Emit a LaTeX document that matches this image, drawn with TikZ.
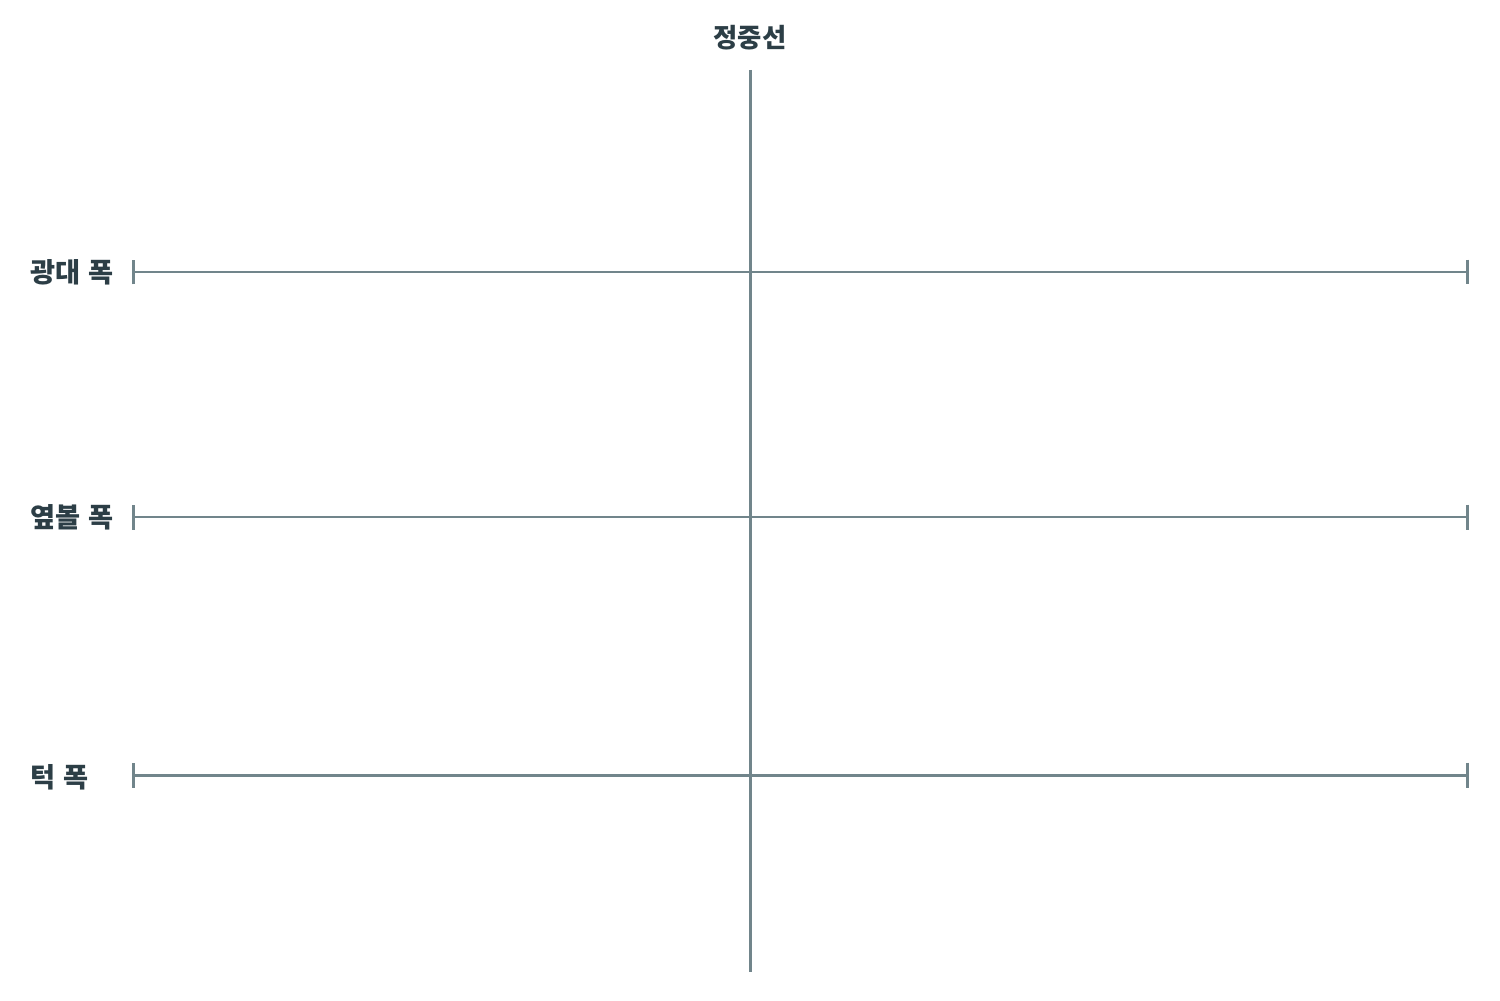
\documentclass[tikz,border=0pt]{standalone}
\usepackage{fontspec}
\setmainfont{Noto Sans CJK KR}
\usepackage{tikz}
\usetikzlibrary{arrows.meta,%
                positioning}
\definecolor{guidegray}{HTML}{71858B}
\definecolor{labelink}{HTML}{2C3E46}

\begin{document}
\begin{tikzpicture}[x=0.02cm,y=-0.02cm]
\tikzset{guide/.style={draw=guidegray,line width=1.7pt},
         widthbar/.style={guide,{Bar[width=0.5cm,line width=1.7pt]}-{Bar[width=0.5cm,line width=1.7pt]}},
         rowlabel/.style={anchor=west,inner sep=0pt,text=labelink,font=\fontsize{15.5}{18}\selectfont\bfseries}}
\useasboundingbox (0,0) rectangle (1500,1000);
\node[text=labelink,font=\fontsize{15}{18}\selectfont\bfseries] (midlabel) at (750,38) {정중선};
\coordinate (midtop) at (750,70);
\coordinate (midbot) at (750,972);
\coordinate (cheekL) at (132,272);
\coordinate (cheekR) at (1469,272);
\coordinate (sideL) at (132,517);
\coordinate (sideR) at (1469,517);
\coordinate (jawL) at (132,775);
\coordinate (jawR) at (1469,775);
\node[rowlabel] (cheek) at (30,272) {광대\hspace{0.3em}폭};
\node[rowlabel] (side) at (30,517) {옆볼\hspace{0.3em}폭};
\node[rowlabel] (jaw) at (30,777) {턱\hspace{0.3em}폭};
\draw[guide] (midtop) -- (midbot);
\draw[widthbar] (cheekL) -- (cheekR);
\draw[widthbar] (sideL) -- (sideR);
\draw[widthbar] (jawL) -- (jawR);
\end{tikzpicture}
\end{document}
